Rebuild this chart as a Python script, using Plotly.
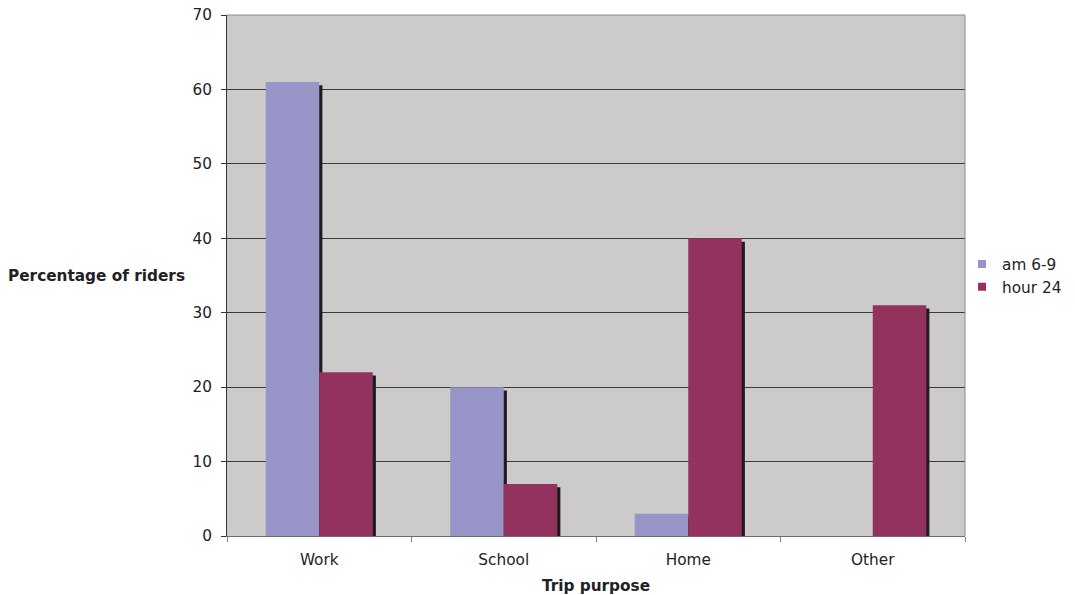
import plotly.graph_objects as go

categories = ["Work", "School", "Home", "Other"]
am_6_9 = [61, 20, 3, 0]
hour_24 = [22, 7, 40, 31]
y_ticks = [0, 10, 20, 30, 40, 50, 60, 70]

AM_COLOR = "#9795C8"
HR_COLOR = "#93325E"
SHADOW = "#1E1C1E"
FONT = "DejaVu Sans"
FS = 15.3
TXT = "#222222"

BW = 0.29          # bar width (category fraction)
SH_DX = 0.017      # shadow horizontal offset
SH_DY = 0.45       # shadow vertical drop (data units)

fig = go.Figure()

def add_series(vals, name, color, offset):
    fig.add_trace(go.Bar(
        x=categories, y=[max(v - SH_DY, 0) if v > 0 else 0 for v in vals],
        offset=offset + SH_DX, width=BW, marker=dict(color=SHADOW, line=dict(width=0)),
        showlegend=False, hoverinfo="skip"))
    fig.add_trace(go.Bar(
        x=categories, y=vals, name=name, offset=offset, width=BW,
        marker=dict(color=color, line=dict(width=0)), showlegend=False))
    # legend entry with a small square symbol
    fig.add_trace(go.Scatter(
        x=[None], y=[None], mode="markers", name=name,
        marker=dict(symbol="square", size=8, color=color)))

add_series(am_6_9, "am 6-9", AM_COLOR, -BW)
add_series(hour_24, "hour 24", HR_COLOR, 0)

fig.update_layout(
    width=1075, height=595,
    margin=dict(l=227, r=110, t=15, b=59, autoexpand=False),
    paper_bgcolor="white",
    plot_bgcolor="#CDCBC9",
    barmode="overlay",
    font=dict(family=FONT, size=FS, color=TXT),
    legend=dict(x=0.996, y=0.5, xanchor="left", yanchor="middle",
                font=dict(family=FONT, size=FS, color=TXT),
                itemwidth=30, tracegroupgap=0, bgcolor="rgba(0,0,0,0)"),
    xaxis=dict(
        type="category", tickson="boundaries", ticks="outside", ticklen=5,
        tickcolor="#808080", showgrid=False, showline=True, linecolor="#6E6E6E",
        linewidth=1, range=[-0.5, 3.5], zeroline=False, ticklabelstandoff=10,
        tickfont=dict(family=FONT, size=FS, color=TXT),
        title=dict(text="<b>Trip purpose</b>", font=dict(family=FONT, size=FS, color=TXT), standoff=12),
    ),
    yaxis=dict(
        range=[0, 70], tickvals=y_ticks, ticks="outside", ticklen=5,
        tickcolor="#333333", showline=True, linecolor="#333333", linewidth=1,
        gridcolor="#3A3A3A", gridwidth=1, zeroline=False, ticklabelstandoff=6,
        tickfont=dict(family=FONT, size=FS, color=TXT),
    ),
    annotations=[dict(
        text="<b>Percentage of riders</b>", xref="paper", yref="paper",
        x=-0.054, y=0.5, xanchor="right", yanchor="middle", showarrow=False,
        font=dict(family=FONT, size=FS, color=TXT))],
    shapes=[dict(type="line", xref="paper", yref="paper", x0=0, x1=1, y0=1, y1=1,
                 line=dict(color="#8A8A8A", width=1)),
            dict(type="line", xref="paper", yref="paper", x0=1, x1=1, y0=0, y1=1,
                 line=dict(color="#8A8A8A", width=1))],
)

fig.write_html("out.html")
